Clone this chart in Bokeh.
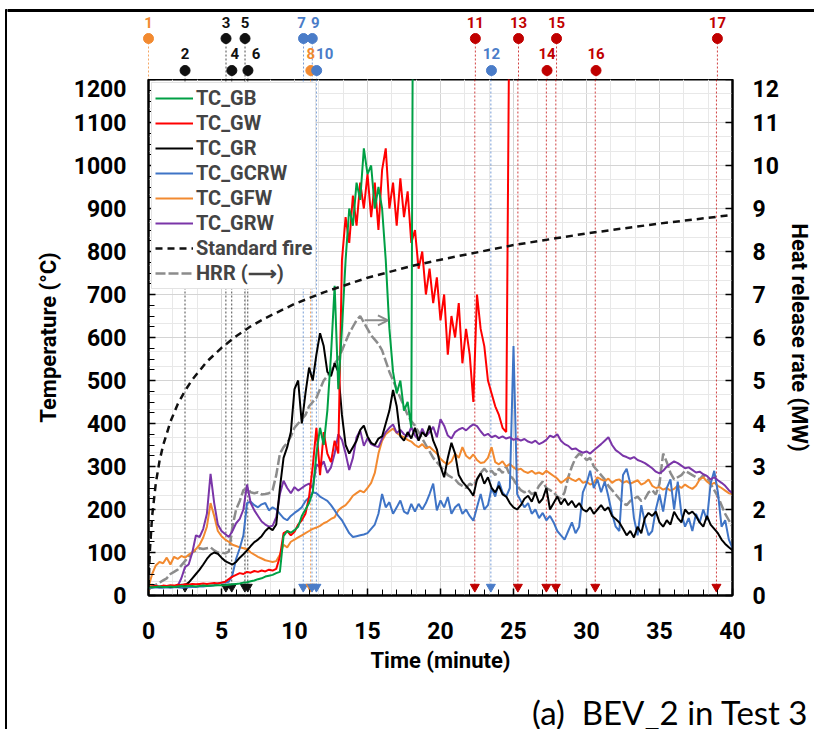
from bokeh.plotting import figure
from bokeh.layouts import column, row
from bokeh.models import (Range1d, LinearAxis, SingleIntervalTicker, Legend, LegendItem,
                          Arrow, OpenHead)
from bokeh.embed import file_html
from bokeh.resources import INLINE
from bokeh.core.properties import value

# ---------------------------------------------------------------- data
STEP = 0.25                      # sampling interval of the logger (min)
minutes = [i * STEP for i in range(161)]

# TC_GB stops at 18 min when the thermocouple fails (reading shoots off scale)
gb_minutes = minutes[:73] + [18.1]
gb_temp = [20, 19, 20, 21, 20, 20, 21, 20, 21, 22, 21, 22, 22, 21, 22, 23, 22, 23, 23, 24,
           24, 24, 25, 26, 27, 28, 30, 31, 33, 35, 38, 40, 44, 46, 48, 52, 55, 138, 150, 146,
           152, 160, 185, 200, 215, 240, 330, 390, 350, 430, 560, 720, 480, 620, 780, 900, 860, 960, 920, 1040,
           980, 1000, 900, 950, 900, 780, 620, 520, 470, 500, 430, 450, 390,
           1300]

# TC_GW fails at about 24.7 min
gw_minutes = minutes[:99] + [24.7]
gw_temp = [20, 21, 22, 21, 23, 22, 24, 23, 25, 24, 26, 25, 27, 26, 27, 28, 27, 28, 29, 28,
           30, 32, 38, 44, 48, 52, 50, 55, 53, 57, 55, 58, 56, 60, 58, 62, 90, 145, 150, 140,
           148, 165, 175, 190, 230, 300, 390, 280, 380, 330, 310, 360, 330, 780, 880, 820, 930, 860, 960, 900,
           980, 880, 960, 850, 990, 1040, 900, 960, 860, 970, 880, 940, 820, 850, 760, 800, 700, 760, 680, 740,
           640, 700, 560, 650, 600, 680, 540, 620, 560, 450, 700, 620, 580, 500, 470, 440, 420, 390, 380,
           1300]

gr_temp = [20, 20, 21, 20, 21, 21, 20, 21, 21, 22, 24, 30, 40, 50, 60, 72, 85, 95, 100, 97,
           88, 80, 76, 72, 78, 88, 96, 105, 115, 124, 130, 138, 150, 158, 152, 165, 250, 320, 345, 380,
           480, 500, 400, 470, 530, 500, 560, 610, 580, 520, 510, 540, 520, 420, 350, 330, 345, 360, 385, 395,
           370, 355, 350, 365, 370, 400, 430, 478, 440, 370, 360, 380, 365, 390, 360, 380, 370, 395, 360, 340,
           300, 275, 320, 355, 330, 280, 265, 255, 245, 232, 270, 285, 260, 275, 250, 240, 255, 235, 230, 215,
           205, 200, 210, 225, 232, 218, 240, 215, 225, 250, 200, 215, 230, 212, 225, 210, 220, 205, 215, 200,
           195, 205, 190, 200, 210, 198, 205, 185, 178, 170, 155, 140, 150, 135, 160, 145, 180, 192, 185, 195,
           170, 160, 175, 165, 195, 180, 170, 200, 190, 195, 185, 170, 160, 185, 165, 155, 145, 130, 120, 112,
           105]

gcrw_temp = [18, 18, 19, 18, 18, 19, 18, 19, 19, 18, 19, 19, 20, 20, 21, 21, 22, 22, 24, 28,
             30, 30, 32, 48, 85, 110, 140, 215, 218, 210, 205, 212, 215, 198, 205, 200, 190, 180, 175, 185,
             192, 198, 205, 220, 228, 240, 238, 230, 225, 220, 210, 198, 185, 175, 160, 145, 136, 138, 140, 142,
             145, 155, 165, 190, 236, 205, 217, 190, 205, 221, 195, 190, 213, 195, 213, 200, 215, 236, 260, 198,
             221, 205, 229, 190, 205, 213, 190, 200, 185, 174, 205, 236, 200, 210, 250, 230, 265, 240, 230, 250,
             580, 236, 220, 205, 215, 190, 200, 180, 192, 175, 185, 170, 150, 140, 130, 150, 170, 145, 160, 240,
             260, 290, 250, 270, 240, 265, 230, 190, 160, 150, 280, 295, 260, 180, 140, 210, 170, 140, 150, 200,
             235, 195, 250, 270, 200, 265, 190, 160, 180, 150, 190, 170, 200, 175, 260, 290, 240, 160, 175, 130,
             110]

gfw_temp = [20, 50, 70, 78, 75, 88, 72, 90, 85, 92, 88, 95, 100, 108, 118, 135, 160, 215, 185, 150,
            138, 130, 125, 118, 115, 112, 110, 108, 100, 95, 90, 86, 82, 80, 78, 80, 95, 118, 112, 125,
            130, 135, 140, 145, 150, 155, 158, 162, 168, 172, 178, 182, 198, 205, 210, 220, 232, 238, 244, 240,
            250, 262, 285, 330, 360, 375, 382, 388, 378, 372, 368, 362, 358, 350, 345, 352, 342, 346, 338, 330,
            318, 310, 305, 312, 330, 320, 345, 325, 318, 328, 315, 308, 310, 320, 345, 310, 305, 312, 300, 306,
            298, 292, 295, 288, 285, 290, 283, 286, 282, 290, 284, 278, 272, 262, 268, 275, 270, 266, 272, 262,
            265, 258, 262, 275, 270, 266, 272, 262, 268, 270, 262, 266, 260, 264, 268, 258, 262, 270, 255, 250,
            252, 246, 250, 244, 248, 256, 250, 258, 252, 248, 255, 270, 275, 265, 258, 262, 255, 250, 244, 238,
            236]

grw_temp = [20, 20, 21, 20, 21, 20, 21, 20, 22, 40, 66, 72, 100, 140, 136, 155, 190, 283, 215, 165,
            150, 143, 136, 150, 168, 178, 200, 258, 215, 198, 185, 172, 165, 160, 162, 182, 236, 267, 250, 238,
            252, 244, 250, 256, 260, 250, 305, 298, 312, 285, 298, 330, 375, 362, 330, 292, 320, 368, 384, 348,
            366, 352, 348, 345, 365, 380, 390, 398, 378, 385, 375, 370, 392, 372, 362, 388, 370, 380, 392, 368,
            410, 395, 372, 365, 380, 386, 390, 384, 392, 398, 394, 382, 372, 376, 368, 372, 366, 370, 365, 368,
            362, 365, 360, 364, 358, 355, 360, 352, 356, 362, 372, 368, 375, 360, 352, 348, 340, 342, 336, 332,
            335, 330, 338, 345, 352, 360, 368, 350, 338, 332, 325, 322, 318, 322, 315, 312, 308, 302, 296, 288,
            284, 290, 300, 306, 312, 308, 302, 296, 298, 292, 286, 288, 282, 278, 270, 275, 268, 262, 255, 245,
            238]

hrr_mw = [0.15, 0.2, 0.25, 0.3, 0.35, 0.4, 0.5, 0.55, 0.6, 0.7, 0.8, 0.9, 1.0, 1.05, 1.1, 1.08, 1.1, 1.12, 1.05, 1.0,
          1.0, 0.98, 1.02, 1.6, 2.0, 2.2, 2.45, 2.5, 2.4, 2.38, 2.4, 2.35, 2.36, 2.38, 2.45, 2.8, 3.3, 3.45, 3.55, 3.7,
          3.9, 4.0, 4.1, 4.2, 4.4, 4.5, 4.6, 4.8, 5.0, 5.1, 5.2, 5.4, 5.5, 5.7, 5.9, 6.1, 6.25, 6.4, 6.5, 6.35,
          6.2, 6.05, 5.95, 5.85, 5.7, 5.45, 5.2, 5.0, 4.8, 4.6, 4.4, 4.2, 4.05, 3.95, 3.8, 3.65, 3.5, 3.35, 3.2, 3.1,
          3.0, 2.9, 2.8, 2.75, 2.7, 2.6, 2.55, 2.5, 2.6, 2.55, 2.7, 2.85, 2.95, 2.85, 2.9, 2.8, 2.95, 2.85, 3.0, 2.8,
          2.7, 2.55, 2.45, 2.4, 2.45, 2.36, 2.4, 2.55, 2.65, 2.5, 2.45, 2.4, 2.3, 2.25, 2.4, 2.75, 3.0, 3.2, 3.3, 3.25,
          3.15, 3.2, 3.0, 2.9, 2.8, 2.7, 2.55, 2.45, 2.35, 2.25, 2.15, 2.1, 2.2, 2.25, 2.3, 2.2, 2.25, 2.4, 2.45, 2.35,
          2.6, 3.3, 3.1, 2.85, 2.7, 2.75, 2.8, 2.9, 2.85, 2.8, 2.75, 2.7, 2.8, 2.75, 2.6, 2.45, 2.3, 2.1, 1.9, 1.75,
          1.6]

# ISO 834 standard fire curve
iso_minutes = [0, 0.1, 0.25, 0.5, 0.75, 1, 1.5, 2, 2.5, 3, 4, 5, 6, 7, 8, 10, 12, 15, 18, 20, 25, 30, 35, 40]
iso_temp = [20, 108, 185, 261, 312, 349, 404, 445, 476, 502, 544, 576, 603, 626, 645, 678, 705, 739, 766,
            781, 815, 842, 865, 885]

# numbered test events
event_labels = [str(i) for i in range(1, 18)]
event_minutes = [0.0, 2.5, 5.3, 5.7, 6.6, 6.8, 10.6, 11.1, 11.2, 11.5,
                 22.35, 23.45, 25.3, 27.25, 27.9, 30.6, 38.9]
event_groups = ["o", "k", "k", "k", "k", "k", "b", "o", "b", "b",
                "r", "b", "r", "r", "r", "r", "r"]

caption = "(a)\u00a0 BEV_2 in Test 3"

# ---------------------------------------------------------------- style
FONT = "Roboto"
GROUP_COLORS = {"o": "#F28A30", "k": "#111111", "b": "#4A7CC8", "r": "#C00000"}
LABEL_NUDGE = {"4": 3, "6": 8, "7": -2, "9": 3, "10": 8}

W = 814
H = 729
EDGE = 7                      # width of the strip holding the outer left rule
TOP_H = 79                    # event header above the plot box
LEFT, RIGHT = 148, 81         # page x of plot box: 148 .. 733
MAIN_BOTTOM = 92              # room for x tick labels and axis title
MAIN_H = 516 + MAIN_BOTTOM    # plot box 516 px tall
CAP_H = H - TOP_H - MAIN_H
INNER_W = W - EDGE
px_per_min = (W - LEFT - RIGHT) / 40.0


def bare(fig):
    fig.grid.visible = False
    fig.outline_line_color = None
    fig.background_fill_color = "white"
    fig.border_fill_color = "white"
    fig.frame_align = False
    return fig


# ---------------------------------------------------------------- main chart
p = figure(width=INNER_W, height=MAIN_H, x_range=Range1d(0, 40), y_range=Range1d(0, 1200),
           output_backend="svg", toolbar_location=None,
           min_border_left=LEFT - EDGE, min_border_right=RIGHT,
           min_border_top=0, min_border_bottom=MAIN_BOTTOM)
p.extra_y_ranges = {"hrr": Range1d(0, 12)}
p.background_fill_color = "white"
p.border_fill_color = "white"
p.outline_line_color = "black"
p.outline_line_width = 2

# grid
p.xgrid.ticker = SingleIntervalTicker(interval=5, num_minor_ticks=3)
p.ygrid.ticker = SingleIntervalTicker(interval=100, num_minor_ticks=3)
for g in (p.xgrid[0], p.ygrid[0]):
    g.grid_line_color = "#d4d4d4"
    g.grid_line_width = 1
    g.minor_grid_line_color = "#e8e8e8"
    g.minor_grid_line_width = 1

# axes
xa = p.xaxis[0]
xa.ticker = SingleIntervalTicker(interval=5, num_minor_ticks=5)
xa.axis_label = "Time (minute)"
xa.major_label_standoff = 26
xa.axis_label_standoff = 6

ya = p.yaxis[0]
ya.ticker = SingleIntervalTicker(interval=100, num_minor_ticks=4)
ya.axis_label = "Temperature (\u00b0C)"
ya.major_label_standoff = 22
ya.axis_label_standoff = 10

ra = LinearAxis(y_range_name="hrr", ticker=SingleIntervalTicker(interval=1, num_minor_ticks=0),
                axis_label="Heat release rate (MW)")
p.add_layout(ra, "right")
ra.major_label_standoff = 20
ra.axis_label_standoff = 5

for ax in (xa, ya, ra):
    ax.axis_line_color = "black"
    ax.axis_line_width = 2
    ax.major_tick_in = 7
    ax.major_tick_out = 0
    ax.minor_tick_in = 6
    ax.minor_tick_out = 0
    ax.major_tick_line_color = "black"
    ax.major_tick_line_width = 1.5
    ax.minor_tick_line_color = "black" if ax is not ra else None
    ax.major_label_text_font = FONT
    ax.major_label_text_font_style = "bold"
    ax.major_label_text_font_size = "23px"
    ax.major_label_text_color = "black"
    ax.axis_label_text_font = FONT
    ax.axis_label_text_font_style = "bold"
    ax.axis_label_text_font_size = "22px"
    ax.axis_label_text_color = "black"

# event guide lines and bottom markers
ev_colors = [GROUP_COLORS[g] for g in event_groups]
p.segment(x0=event_minutes, y0=[1200] * len(event_minutes), x1=event_minutes,
          y1=[20] * len(event_minutes), line_color=ev_colors, line_dash="2 2",
          line_width=1, line_alpha=0.75)
p.scatter(x=event_minutes, y=[20] * len(event_minutes), marker="inverted_triangle",
          size=9, fill_color=ev_colors, line_color=ev_colors)

# data series
r_hrr = p.line(minutes, hrr_mw, y_range_name="hrr", line_color="#8c8c8c",
               line_width=2.5, line_dash="10 3")
r_gfw = p.line(minutes, gfw_temp, line_color="#F28A30", line_width=2)
r_gcrw = p.line(minutes, gcrw_temp, line_color="#3F74C6", line_width=2)
r_grw = p.line(minutes, grw_temp, line_color="#7A35A8", line_width=2)
r_gr = p.line(minutes, gr_temp, line_color="#000000", line_width=2)
r_gw = p.line(gw_minutes, gw_temp, line_color="#FF0000", line_width=2)
r_gb = p.line(gb_minutes, gb_temp, line_color="#00A045", line_width=2)
r_iso = p.line(iso_minutes, iso_temp, line_color="#111111", line_width=2.5, line_dash="7 5")

# arrow pointing the HRR curve to its axis
p.add_layout(Arrow(end=OpenHead(size=10, line_color="#8c8c8c", line_width=2),
                   x_start=14.8, y_start=6.4, x_end=16.4, y_end=6.4, y_range_name="hrr",
                   line_color="#8c8c8c", line_width=2))

legend = Legend(items=[
    LegendItem(label="TC_GB", renderers=[r_gb]),
    LegendItem(label="TC_GW", renderers=[r_gw]),
    LegendItem(label="TC_GR", renderers=[r_gr]),
    LegendItem(label="TC_GCRW", renderers=[r_gcrw]),
    LegendItem(label="TC_GFW", renderers=[r_gfw]),
    LegendItem(label="TC_GRW", renderers=[r_grw]),
    LegendItem(label="Standard fire", renderers=[r_iso]),
    LegendItem(label="HRR (\u27f6)", renderers=[r_hrr]),
], location="top_left")
legend.margin = 3
legend.padding = 3
legend.spacing = 1
legend.glyph_width = 38
legend.glyph_height = 22
legend.label_height = 22
legend.label_standoff = 3
legend.label_text_font = FONT
legend.label_text_font_style = "bold"
legend.label_text_font_size = "20px"
legend.border_line_color = "#c8c8c8"
legend.border_line_width = 1
legend.background_fill_color = "white"
legend.background_fill_alpha = 1
p.add_layout(legend)

# ---------------------------------------------------------------- event header
top = bare(figure(width=INNER_W, height=TOP_H,
                  x_range=Range1d(-(LEFT - EDGE) / px_per_min, 40 + RIGHT / px_per_min),
                  y_range=Range1d(0, TOP_H), output_backend="svg", toolbar_location=None,
                  x_axis_location=None, y_axis_location=None,
                  min_border_left=0, min_border_right=0, min_border_top=0, min_border_bottom=0))

upper = [int(l) % 2 == 1 for l in event_labels]
dot_y = [TOP_H - 38 if u else TOP_H - 70 for u in upper]
txt_y = [TOP_H - 22 if u else TOP_H - 53 for u in upper]
nudge = [LABEL_NUDGE.get(l, 0) for l in event_labels]

top.segment(x0=event_minutes, y0=dot_y, x1=event_minutes, y1=[0] * len(event_minutes),
            line_color=ev_colors, line_dash="2 2", line_width=1, line_alpha=0.75)
top.scatter(x=event_minutes, y=dot_y, size=10, fill_color=ev_colors, line_color=ev_colors)
top.text(x=event_minutes, y=txt_y, text=event_labels, x_offset=nudge,
         text_align="center", text_baseline="middle", text_color=ev_colors,
         text_font=value(FONT), text_font_style="bold", text_font_size="15px")

# outer rule along the top edge
top.hbar(y=[TOP_H - 10], height=2, left=[top.x_range.start], right=[top.x_range.end],
         color="black")

# ---------------------------------------------------------------- caption strip
cap = bare(figure(width=INNER_W, height=CAP_H, x_range=Range1d(0, INNER_W),
                  y_range=Range1d(0, CAP_H), output_backend="svg", toolbar_location=None,
                  x_axis_location=None, y_axis_location=None,
                  min_border_left=0, min_border_right=0, min_border_top=0, min_border_bottom=0))
cap.text(x=[INNER_W - 6], y=[18], text=[caption], text_align="right",
         text_baseline="middle", text_font=value("Lato"), text_font_size="33px",
         text_color="black")

# ---------------------------------------------------------------- outer rule along the left edge
strip = bare(figure(width=EDGE, height=H, x_range=Range1d(0, EDGE), y_range=Range1d(0, H),
                    output_backend="svg", toolbar_location=None,
                    x_axis_location=None, y_axis_location=None,
                    min_border_left=0, min_border_right=0, min_border_top=0, min_border_bottom=0))
strip.quad(left=[EDGE - 2], right=[EDGE], bottom=[0], top=[H - 9], color="black")

layout = row(strip, column(top, p, cap, spacing=0), spacing=0)
open("out.html", "w").write(file_html(layout, INLINE))
